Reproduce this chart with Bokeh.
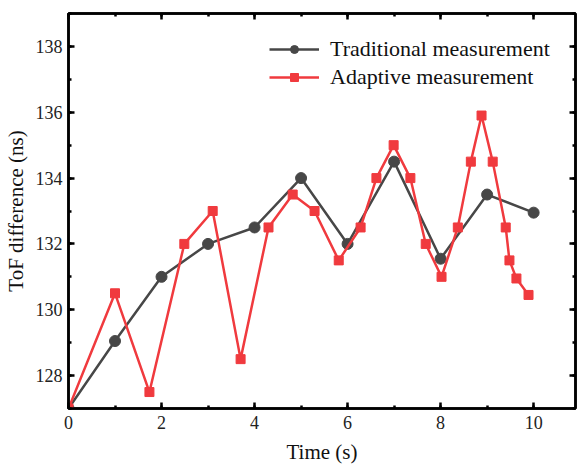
from bokeh.plotting import figure
from bokeh.models import LinearAxis, Range1d, SingleIntervalTicker, Legend, LegendItem, CustomJSTickFormatter
from bokeh.embed import file_html
from bokeh.resources import INLINE

trad_t = [0, 1, 2, 3, 4, 5, 6, 7, 8, 9, 10]
trad_v = [127.0, 129.05, 131.0, 132.0, 132.5, 134.0, 132.0, 134.5, 131.55, 133.5, 132.95]

adap_t = [0, 1.0, 1.74, 2.49, 3.1, 3.7, 4.3, 4.82, 5.29, 5.81, 6.28, 6.62, 6.99,
          7.35, 7.68, 8.02, 8.37, 8.65, 8.88, 9.12, 9.4, 9.48, 9.63, 9.89]
adap_v = [127.0, 130.5, 127.5, 132.0, 133.0, 128.5, 132.5, 133.5, 133.0, 131.5, 132.5, 134.0, 135.0,
          134.0, 132.0, 131.0, 132.5, 134.5, 135.9, 134.5, 132.5, 131.5, 130.95, 130.45]

FONT = "Liberation Serif"
GRAY = "#474747"
RED = "#f03a3e"

p = figure(width=578, height=467, output_backend="svg", toolbar_location=None,
           x_range=Range1d(0, 10.9), y_range=Range1d(127, 139),
           min_border_left=68, min_border_right=3, min_border_top=13, min_border_bottom=59)
p.grid.visible = False
p.outline_line_color = "black"
p.outline_line_width = 2.5

r1 = p.line(trad_t, trad_v, line_color=GRAY, line_width=2.5)
m1 = p.scatter(trad_t, trad_v, marker="circle", size=11, fill_color=GRAY, line_color=GRAY)
r2 = p.line(adap_t, adap_v, line_color=RED, line_width=2.5)
m2 = p.scatter(adap_t, adap_v, marker="square", size=9, fill_color=RED, line_color=RED)

def style(ax, labels=True):
    ax.axis_line_width = 2.5
    ax.axis_line_color = "black"
    ax.major_tick_in = 6
    ax.major_tick_out = 0
    ax.minor_tick_in = 3
    ax.minor_tick_out = 0
    ax.major_tick_line_width = 2.5
    ax.minor_tick_line_width = 2.5
    ax.ticker = SingleIntervalTicker(interval=2, num_minor_ticks=2)
    if labels:
        ax.major_label_text_font = FONT
        ax.major_label_text_font_size = "18px"
        ax.major_label_text_color = "#222222"
        ax.axis_label_text_font = FONT
        ax.axis_label_text_font_size = "21px"
        ax.axis_label_text_font_style = "normal"
        ax.axis_label_text_color = "#111111"
    else:
        ax.formatter = CustomJSTickFormatter(code="return '';")
        ax.major_label_standoff = 0

style(p.xaxis[0])
style(p.yaxis[0])
p.xaxis[0].axis_label = "Time (s)"
p.yaxis[0].axis_label = "ToF difference (ns)"
p.xaxis[0].major_label_standoff = 7
p.yaxis[0].major_label_standoff = 6
p.xaxis[0].axis_label_standoff = 8
p.yaxis[0].axis_label_standoff = 5

top = LinearAxis()
right = LinearAxis()
style(top, False)
style(right, False)
p.add_layout(top, "above")
p.add_layout(right, "right")

legend = Legend(items=[LegendItem(label="Traditional measurement", renderers=[r1, m1]),
                       LegendItem(label="Adaptive measurement", renderers=[r2, m2])],
                location=(201, 318), border_line_alpha=0, background_fill_alpha=0,
                label_text_font=FONT, label_text_font_size="22px",
                label_text_color="#111111", glyph_width=50, label_standoff=11,
                spacing=2, margin=0, padding=0)
p.add_layout(legend)

open("out.html", "w").write(file_html(p, INLINE))
